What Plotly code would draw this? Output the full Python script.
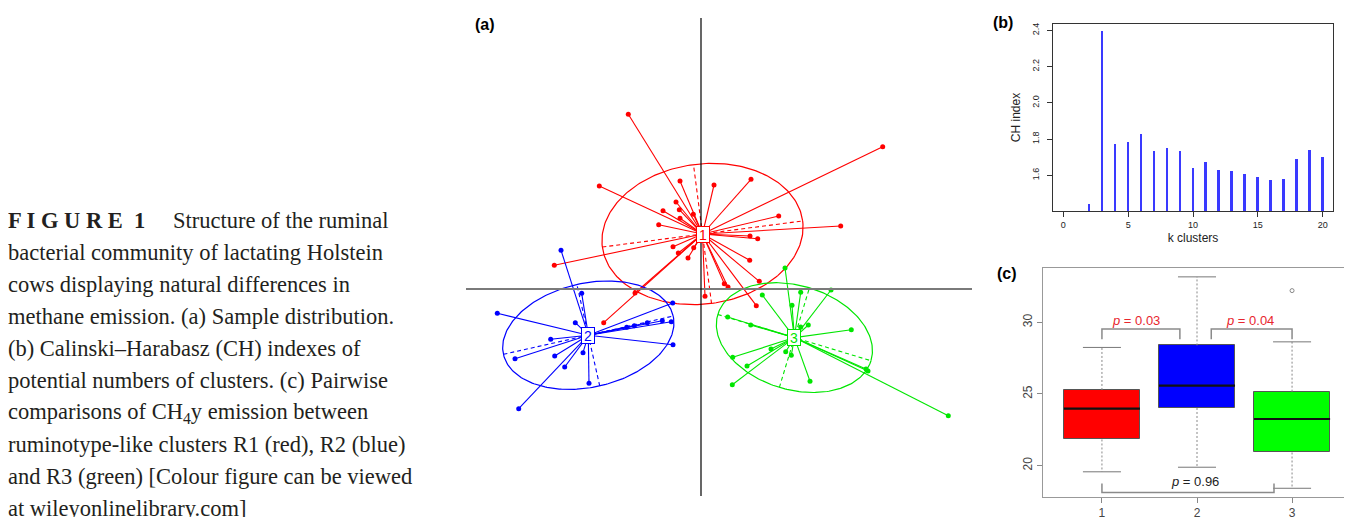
import numpy as np
import plotly.graph_objects as go

W, H = 1352, 517
# the page puts the figure 8 px in from the top-left corner
OFF = 8

# ─── (a) sample scores on the first two axes, by cluster ─────────────────────
R1_X = [-0.727, 1.817, -1.017, -0.21, 0.13, 0.5, -0.25, -0.217, -0.38, -0.077,
        -0.21, -0.423, 0.777, 1.397, 0.49, 0.567, -0.28, -0.073, -0.227, -0.13,
        -1.467, 0.487, 0.583, 0.233, 0.27, 0.04, 0.553, -0.66, -0.973]
R1_Y = [1.747, 1.423, 1.03, 1.08, 1.04, 1.097, 0.87, 0.793, 0.783, 0.747,
        0.707, 0.643, 0.73, 0.63, 0.53, 0.503, 0.423, 0.413, 0.36, 0.31,
        0.237, 0.287, 0.077, 0.053, 0.02, -0.073, -0.167, -0.04, -0.337]

R2_X = [-1.4, -1.193, -2.037, -1.257, -0.283, -1.503, -1.86, -1.463, -1.18,
        -1.363, -1.12, -1.823, -0.28, -0.297, -0.387, -0.537, -0.667, -0.743]
R2_Y = [0.387, -0.043, -0.243, -0.337, -0.14, -0.503, -0.697, -0.67, -0.637,
        -0.78, -0.943, -1.197, -0.557, -0.327, -0.317, -0.337, -0.367, -0.383]

R3_X = [0.84, 1.3, 0.997, 0.613, 0.91, 1.073, 0.997, 0.267, 0.497, 1.503,
        0.7, 0.847, 0.903, 0.317, 0.46, 1.67, 1.65, 1.09, 0.313, 2.473]
R3_Y = [0.21, -0.01, -0.033, -0.06, -0.163, -0.36, -0.38, -0.28, -0.36, -0.407,
        -0.6, -0.627, -0.663, -0.683, -0.77, -0.82, -0.8, -0.923, -0.957, -1.267]

# class centres and inertia ellipses (semi-major, semi-minor, angle in degrees)
CENTRES_X = [0.015, -1.127, 0.934]
CENTRES_Y = [0.55, -0.462, -0.486]
ELL_A = [1.01, 0.87, 0.80]
ELL_B = [0.70, 0.52, 0.52]
ELL_ANGLE = [7.4, 12.7, -16.8]

# ─── (b) Calinski-Harabasz index vs k ─────────────────────────────────────────
K_CLUSTERS = list(range(2, 21))
CH_INDEX = [1.444, 2.394, 1.773, 1.786, 1.830, 1.736, 1.753, 1.736, 1.640, 1.674,
            1.629, 1.624, 1.606, 1.593, 1.576, 1.582, 1.688, 1.743, 1.701]

# ─── (c) CH4y emission per cluster ───────────────────────────────────────────
GROUPS = [1, 2, 3]
Q1 = [21.82, 24.02, 20.91]
MEDIAN = [23.97, 25.58, 23.25]
Q3 = [25.28, 28.39, 25.16]
W_LOW = [19.56, 19.88, 18.41]
W_HIGH = [28.25, 33.18, 28.64]
OUTLIER_X = [3]
OUTLIER_Y = [32.22]
P_LABELS = ["0.03", "0.04", "0.96"]

RED, BLUE, GREEN = "#ff0000", "#0000ff", "#00e600"
COLS = [RED, BLUE, GREEN]
FILLS = ["#ff0000", "#0000ff", "#00ff00"]


def xdom(p0, p1):
    return [(p0 - OFF) / W, (p1 - OFF) / W]


def ydom(p_top, p_bot):
    return [1 - (p_bot - OFF) / H, 1 - (p_top - OFF) / H]


def xp(p):
    return (p - OFF) / W


def yp(p):
    return 1 - (p - OFF) / H


fig = go.Figure()

# ─── panel (a) ───────────────────────────────────────────────────────────────
groups_a = [(R1_X, R1_Y), (R2_X, R2_Y), (R3_X, R3_Y)]
t = np.linspace(0, 2 * np.pi, 240)
for i, (gx, gy) in enumerate(groups_a):
    cx, cy = CENTRES_X[i], CENTRES_Y[i]
    col = COLS[i]
    th = np.radians(ELL_ANGLE[i])
    a, b = ELL_A[i], ELL_B[i]
    ex = cx + a * np.cos(t) * np.cos(th) - b * np.sin(t) * np.sin(th)
    ey = cy + a * np.cos(t) * np.sin(th) + b * np.sin(t) * np.cos(th)
    fig.add_trace(go.Scatter(x=ex, y=ey, mode="lines", line=dict(color=col, width=1.2),
                             xaxis="x", yaxis="y", hoverinfo="skip"))
    # ellipse axes (dashed)
    ax_x = [cx - a * np.cos(th), cx + a * np.cos(th), None,
            cx + b * np.sin(th), cx - b * np.sin(th)]
    ax_y = [cy - a * np.sin(th), cy + a * np.sin(th), None,
            cy - b * np.cos(th), cy + b * np.cos(th)]
    fig.add_trace(go.Scatter(x=ax_x, y=ax_y, mode="lines",
                             line=dict(color=col, width=1.1, dash="4px,3px"),
                             xaxis="x", yaxis="y", hoverinfo="skip"))
    # star segments
    sx, sy = [], []
    for px_, py_ in zip(gx, gy):
        sx += [cx, px_, None]
        sy += [cy, py_, None]
    fig.add_trace(go.Scatter(x=sx, y=sy, mode="lines", line=dict(color=col, width=1.1),
                             xaxis="x", yaxis="y", hoverinfo="skip"))
    fig.add_trace(go.Scatter(x=gx, y=gy, mode="markers", marker=dict(color=col, size=5),
                             xaxis="x", yaxis="y", name=f"R{i + 1}"))
    fig.add_annotation(x=cx, y=cy, xref="x", yref="y", text=str(i + 1), showarrow=False,
                       xanchor="center", yanchor="middle",
                       font=dict(family="Liberation Sans", size=14, color=col),
                       bgcolor="white", bordercolor=col, borderwidth=1, borderpad=0,
                       width=12, height=15)

# cross through the origin
fig.add_trace(go.Scatter(x=[-2.35, 2.71], y=[0, 0], mode="lines",
                         line=dict(color="#7a7a7a", width=2), xaxis="x", yaxis="y",
                         hoverinfo="skip"))
fig.add_trace(go.Scatter(x=[0, 0], y=[-2.07, 2.71], mode="lines",
                         line=dict(color="black", width=1.2), xaxis="x", yaxis="y",
                         hoverinfo="skip"))

# ─── panel (b) ───────────────────────────────────────────────────────────────
fig.add_trace(go.Bar(x=K_CLUSTERS, y=CH_INDEX, width=0.15, marker_color="#3a3aff",
                     marker_line_width=0, xaxis="x2", yaxis="y2", name="CH index"))

# ─── panel (c) ───────────────────────────────────────────────────────────────
fig.add_trace(go.Bar(x=GROUPS, y=[q3 - q1 for q1, q3 in zip(Q1, Q3)], base=Q1, width=0.8,
                     marker=dict(color=FILLS, line=dict(color="#555555", width=1)),
                     xaxis="x3", yaxis="y3", name="CH4y"))
med_x, med_y, wh_x, wh_y, cap_x, cap_y = [], [], [], [], [], []
for g, md, lo, hi, q1, q3 in zip(GROUPS, MEDIAN, W_LOW, W_HIGH, Q1, Q3):
    med_x += [g - 0.4, g + 0.4, None]
    med_y += [md, md, None]
    wh_x += [g, g, None, g, g, None]
    wh_y += [q3, hi, None, q1, lo, None]
    cap_x += [g - 0.2, g + 0.2, None, g - 0.2, g + 0.2, None]
    cap_y += [hi, hi, None, lo, lo, None]
fig.add_trace(go.Scatter(x=wh_x, y=wh_y, mode="lines",
                         line=dict(color="#888888", width=1, dash="2px,2px"),
                         xaxis="x3", yaxis="y3", hoverinfo="skip"))
fig.add_trace(go.Scatter(x=cap_x, y=cap_y, mode="lines", line=dict(color="#777777", width=1),
                         xaxis="x3", yaxis="y3", hoverinfo="skip"))
fig.add_trace(go.Scatter(x=med_x, y=med_y, mode="lines", line=dict(color="#111111", width=2.2),
                         xaxis="x3", yaxis="y3", hoverinfo="skip"))
fig.add_trace(go.Scatter(x=OUTLIER_X, y=OUTLIER_Y, mode="markers",
                         marker=dict(symbol="circle-open", size=4, color="#888888"),
                         xaxis="x3", yaxis="y3", hoverinfo="skip"))

# significance brackets
brackets = [  # x0, x1, bar level, leg end, text x, text y, colour
    (1.0, 1.82, 29.53, 28.83, 1.36, 30.1, "#e8262e"),
    (2.15, 3.0, 29.53, 28.83, 2.56, 30.1, "#e8262e"),
    (1.0, 2.81, 18.11, 18.74, 1.98, 18.85, "#222222"),
]
for (x0, x1, lvl, leg, tx, ty, tc), pl in zip(brackets, P_LABELS):
    fig.add_trace(go.Scatter(x=[x0, x0, x1, x1], y=[leg, lvl, lvl, leg], mode="lines",
                             line=dict(color="#8a8a8a", width=1.5),
                             xaxis="x3", yaxis="y3", hoverinfo="skip"))
    fig.add_annotation(x=tx, y=ty, xref="x3", yref="y3", text=f"<i>p</i> = {pl}",
                       xanchor="center", yanchor="middle", showarrow=False,
                       font=dict(family="Liberation Sans", size=13, color=tc))

# ─── panel letters and caption ───────────────────────────────────────────────
for lbl, px_, py_ in [("(a)", 485, 24), ("(b)", 1003, 22), ("(c)", 1007, 273)]:
    fig.add_annotation(x=xp(px_), y=yp(py_), xref="paper", yref="paper", text=f"<b>{lbl}</b>",
                       xanchor="center", yanchor="middle", showarrow=False,
                       font=dict(family="Liberation Sans", size=16, color="black"))

CAPTION = [
    "bacterial community of lactating Holstein",
    "cows displaying natural differences in",
    "methane emission. (a) Sample distribution.",
    "(b) Calinski–Harabasz (CH) indexes of",
    "potential numbers of clusters. (c) Pairwise",
    "comparisons of CH<sub>4</sub>y emission between",
    "ruminotype-like clusters R1 (red), R2 (blue)",
    "and R3 (green) [Colour figure can be viewed",
    "at wileyonlinelibrary.com]",
]
cap_font = dict(family="Liberation Serif", size=22.5, color="#231f20")
fig.add_annotation(x=xp(6), y=yp(220), xref="paper", yref="paper", xanchor="left",
                   yanchor="middle", text="<b>F I G U R E  1</b>", showarrow=False, font=cap_font)
fig.add_annotation(x=xp(171), y=yp(220), xref="paper", yref="paper", xanchor="left",
                   yanchor="middle", text="Structure of the ruminal", showarrow=False,
                   font=cap_font)
for j, line in enumerate(CAPTION):
    fig.add_annotation(x=xp(6), y=yp(252 + 32.1 * j), xref="paper", yref="paper",
                       xanchor="left", yanchor="middle", text=line, showarrow=False,
                       font=cap_font)

# ─── axes ────────────────────────────────────────────────────────────────────
fig.update_layout(
    width=W, height=H,
    margin=dict(l=0, r=0, t=0, b=0, autoexpand=False),
    paper_bgcolor="white", plot_bgcolor="white",
    showlegend=False,
    font=dict(family="Liberation Sans"),
    xaxis=dict(domain=xdom(466, 972), range=[-2.35, 2.71], visible=False),
    yaxis=dict(domain=ydom(18, 496), range=[-2.07, 2.71], visible=False),
    xaxis2=dict(domain=xdom(1053, 1333), range=[-0.8, 20.8], anchor="y2",
                tickvals=[0, 5, 10, 15, 20], ticks="outside", ticklen=5, tickcolor="#333",
                showgrid=False, zeroline=False, showline=True, linecolor="#333", mirror=True,
                tickfont=dict(size=9, color="#222"), automargin=False,
                title=dict(text="k clusters", font=dict(size=12, color="#222"), standoff=4)),
    yaxis2=dict(domain=ydom(24, 211), range=[1.404, 2.435], anchor="x2",
                tickvals=[1.6, 1.8, 2.0, 2.2, 2.4], tickformat=".1f", tickangle=-90,
                ticks="outside", ticklen=5, tickcolor="#333", automargin=False,
                ticklabelstandoff=4,
                showgrid=False, zeroline=False, showline=True, linecolor="#333", mirror=True,
                tickfont=dict(size=9, color="#222"),
                title=dict(text="CH index", font=dict(size=12, color="#222"), standoff=8)),
    xaxis3=dict(domain=xdom(1043, 1351), range=[0.38, 3.62], anchor="y3",
                tickvals=[1, 2, 3], ticks="outside", ticklen=5, tickcolor="#888",
                showgrid=False, zeroline=False, showline=True, linecolor="#999", mirror=True,
                tickfont=dict(size=12, color="#444"), automargin=False),
    yaxis3=dict(domain=ydom(268, 497), range=[17.8, 33.8], anchor="x3",
                tickvals=[20, 25, 30], tickangle=-90, ticks="outside", ticklen=5,
                tickcolor="#888", showgrid=False, zeroline=False, showline=True,
                linecolor="#999", mirror=True, tickfont=dict(size=12, color="#444"),
                automargin=False),
    bargap=0,
)

fig.write_html("out.html")
